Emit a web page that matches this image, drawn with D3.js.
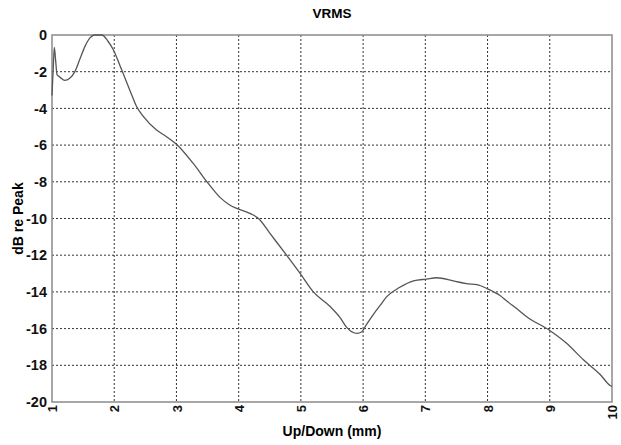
<!DOCTYPE html>
<html>
<head>
<meta charset="utf-8">
<script src="https://cdn.jsdelivr.net/npm/d3@7"></script>
<style>
  body { margin: 0; background: #fff; }
  svg { font-family: "Liberation Sans", Arial, sans-serif; }
  .tick text { font-weight: bold; fill: #111; }
</style>
</head>
<body>
<svg></svg>
<script>
let width = 621
let height = 445
let margin = { top: 35, right: 9, bottom: 43, left: 52 }

// values
let upDown = [1.0, 1.02, 1.037, 1.06, 1.08, 1.11, 1.145, 1.2, 1.29, 1.37, 1.45, 1.53, 1.61, 1.68, 1.8, 1.9,
              1.985, 2.12, 2.28, 2.36, 2.47, 2.68, 2.84, 3.0, 3.27, 3.49, 3.7, 3.85, 3.97, 4.18, 4.32,
              4.5, 4.77, 4.99, 5.2, 5.47, 5.63, 5.74, 5.9, 5.98, 6.05, 6.16, 6.27, 6.38, 6.59, 6.81,
              7.02, 7.18, 7.45, 7.66, 7.83, 8.01, 8.2, 8.31, 8.52, 8.63, 9.0, 9.27, 9.54, 9.81, 9.97, 10.0]
let dBrePeak = [-3.3, -1.8, -0.67, -1.45, -2.15, -2.25, -2.35, -2.47, -2.34, -1.98, -1.3, -0.62, -0.16, 0, 0, -0.34,
                -0.8, -1.9, -3.25, -3.9, -4.45, -5.18, -5.54, -5.95, -7.0, -8.0, -8.85, -9.25, -9.45, -9.72, -10.0,
                -10.8, -12.0, -13.0, -14.0, -14.8, -15.4, -15.95, -16.26, -16.17, -15.8, -15.25, -14.75, -14.26, -13.75, -13.4,
                -13.3, -13.23, -13.4, -13.55, -13.6, -13.85, -14.2, -14.5, -15.05, -15.35, -16.1, -16.8, -17.7, -18.5, -19.1, -19.15]

let xTicks = [1, 2, 3, 4, 5, 6, 7, 8, 9, 10]
let yTicks = [0, -2, -4, -6, -8, -10, -12, -14, -16, -18, -20]

let values = upDown.map((x, i) => ({ x: x, y: dBrePeak[i] }))

let svg = d3.select('svg')
    .attr('width', width)
    .attr('height', height)

let xScale = d3.scaleLinear()
    .domain([1, 10])
    .range([margin.left, width - margin.right])

let yScale = d3.scaleLinear()
    .domain([-20, 0])
    .range([height - margin.bottom, margin.top])

// dotted grid
svg.append('g')
    .selectAll('line')
    .data(xTicks.slice(1, -1))
    .enter()
    .append('line')
    .attr('x1', d => xScale(d))
    .attr('x2', d => xScale(d))
    .attr('y1', yScale(0))
    .attr('y2', yScale(-20))
    .attr('stroke', '#333')
    .attr('stroke-width', 1)
    .attr('stroke-dasharray', '2,2')

svg.append('g')
    .selectAll('line')
    .data(yTicks.slice(1, -1))
    .enter()
    .append('line')
    .attr('x1', xScale(1))
    .attr('x2', xScale(10))
    .attr('y1', d => yScale(d))
    .attr('y2', d => yScale(d))
    .attr('stroke', '#333')
    .attr('stroke-width', 1)
    .attr('stroke-dasharray', '2,2')

// axes - plain hyphen for negatives, like the original
let xAxis = d3.axisBottom(xScale).tickValues(xTicks).tickSize(0).tickFormat(d => String(d))
let gx = svg.append('g')
    .attr('transform', 'translate(0, ' + (height - margin.bottom) + ')')
    .call(xAxis)
gx.select('.domain').remove()
gx.selectAll('text')
    .attr('font-size', 13)
    .attr('text-anchor', 'end')
    .attr('dy', '0.35em')
    .attr('transform', 'translate(0, 3) rotate(-90)')
    .attr('x', 0)
    .attr('y', 0)

let yAxis = d3.axisLeft(yScale).tickValues(yTicks).tickSize(0).tickPadding(5).tickFormat(d => String(d))
let gy = svg.append('g')
    .attr('transform', 'translate(' + margin.left + ', 0)')
    .call(yAxis)
gy.select('.domain').remove()
gy.selectAll('text').attr('font-size', 14.5)

// frame
svg.append('rect')
    .attr('x', xScale(1))
    .attr('y', yScale(0))
    .attr('width', xScale(10) - xScale(1))
    .attr('height', yScale(-20) - yScale(0))
    .attr('fill', 'none')
    .attr('stroke', '#8a8a8a')
    .attr('stroke-width', 1.5)

// curve
let line = d3.line()
    .x(d => xScale(d.x))
    .y(d => yScale(d.y))
    .curve(d3.curveMonotoneX)

svg.append('path')
    .datum(values)
    .attr('d', line)
    .attr('fill', 'none')
    .attr('stroke', '#555')
    .attr('stroke-width', 1.3)

// titles
svg.append('text')
    .attr('x', (xScale(1) + xScale(10)) / 2)
    .attr('y', 18)
    .attr('text-anchor', 'middle')
    .attr('font-size', 13.5)
    .attr('font-weight', 'bold')
    .text('VRMS')

svg.append('text')
    .attr('x', (xScale(1) + xScale(10)) / 2)
    .attr('y', 436)
    .attr('text-anchor', 'middle')
    .attr('font-size', 14)
    .attr('font-weight', 'bold')
    .text('Up/Down (mm)')

svg.append('text')
    .attr('transform', 'translate(23, ' + ((yScale(0) + yScale(-20)) / 2) + ') rotate(-90)')
    .attr('text-anchor', 'middle')
    .attr('font-size', 14)
    .attr('font-weight', 'bold')
    .text('dB re Peak')
</script>
</body>
</html>
